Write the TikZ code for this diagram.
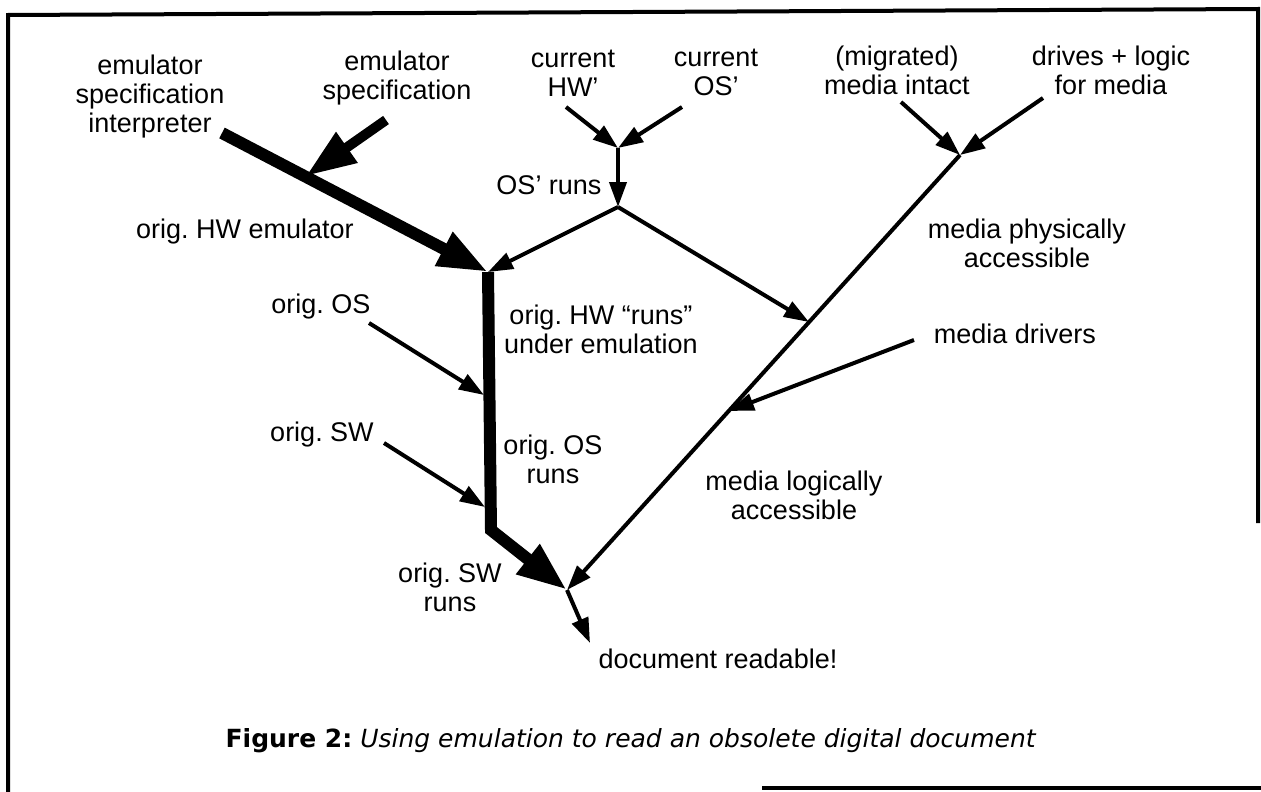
\documentclass[tikz,border=0pt]{standalone}
\usepackage{fontspec}
\setmainfont{Liberation Sans}
\newfontfamily\capfont{DejaVu Sans}
\frenchspacing
\usetikzlibrary{arrows.meta}
\tikzset{x=1pt,y=-1pt,
  lbl/.style={align=center,inner sep=0pt,font=\fontsize{27}{29}\selectfont,
    execute at begin node=\strut,execute at end node=\strut},
  flow/.style={line width=4pt,-{Triangle[length=25pt,width=17pt]}},
  heavy/.style={line width=12pt,-{Triangle[length=50pt,width=35pt]}},
  frame/.style={line width=4pt}}

\begin{document}
\begin{tikzpicture}
    \useasboundingbox (0,0) rectangle (1261,792);
    \draw[frame] (8,792) -- (8,15) -- (1258,9) -- (1258,523);
    \draw[frame] (762,788) -- (1261,788);

    \node[lbl] (interp) at (150,98) {emulator\\specification\\interpreter};
    \node[lbl] (spec) at (397,80) {emulator\\specification};
    \node[lbl] (curHW) at (573,78) {current\\HW’};
    \node[lbl] (curOS) at (716,77) {current\\OS’};
    \node[lbl] (migr) at (897,75) {(migrated)\\media intact};
    \node[lbl] (drives) at (1111,75) {drives + logic\\for media};
    \node[lbl] (osruns) at (549,189) {OS’ runs};
    \node[lbl] (hwemu) at (245,233) {orig. HW emulator};
    \node[lbl] (phys) at (1027,248) {media physically\\accessible};
    \node[lbl] (origOS) at (321,308) {orig. OS};
    \node[lbl] (hwruns) at (601,334) {orig. HW “runs”\\under emulation};
    \node[lbl] (mdrv) at (1015,338) {media drivers};
    \node[lbl] (origSW) at (322,436) {orig. SW};
    \node[lbl] (origOSruns) at (553,464) {orig. OS\\runs};
    \node[lbl] (logic) at (794,500) {media logically\\accessible};
    \node[lbl] (origSWruns) at (450,592) {orig. SW\\runs};
    \node[lbl] (doc) at (718,663) {document readable!};
    \node[inner sep=0pt,font=\capfont\fontsize{25}{30}\selectfont] (caption) at (631,741)
        {\textbf{Figure 2:} \textit{Using emulation to read an obsolete digital document}};

    % junctions and free ends
    \coordinate (emuS) at (222,133);
    \coordinate (specS) at (386,120);
    \coordinate (specT) at (306,176);
    \coordinate (jHW) at (488,272);
    \coordinate (bend) at (491,530);
    \coordinate (jDoc) at (567,590);
    \coordinate (docT) at (590,643);
    \coordinate (hwS) at (566,107);
    \coordinate (osS) at (682,107);
    \coordinate (jOS) at (618,148);
    \coordinate (osRun) at (618,207);
    \coordinate (migS) at (901,102);
    \coordinate (drvS) at (1043,98);
    \coordinate (jMedia) at (960,155);
    \coordinate (physT) at (809,322);
    \coordinate (mdS) at (914,340);
    \coordinate (logT) at (729,411);
    \coordinate (oosS) at (369,323);
    \coordinate (oosT) at (484,395);
    \coordinate (oswS) at (384,443);
    \coordinate (oswT) at (485,507);

    \draw[heavy] (jHW) -- (bend) -- (jDoc);
    \path
    (emuS) edge[heavy] (jHW)
    (specS) edge[heavy,line width=10pt] (specT)
    (hwS) edge[flow] (jOS)
    (osS) edge[flow] (jOS)
    (jOS) edge[flow] (osRun)
    (osRun) edge[flow] (jHW)
    (osRun) edge[flow] (physT)
    (migS) edge[flow] (jMedia)
    (drvS) edge[flow] (jMedia)
    (jMedia) edge[flow] (jDoc)
    (mdS) edge[flow] (logT)
    (oosS) edge[flow] (oosT)
    (oswS) edge[flow] (oswT)
    (jDoc) edge[flow] (docT)
    ;
\end{tikzpicture}
\end{document}
